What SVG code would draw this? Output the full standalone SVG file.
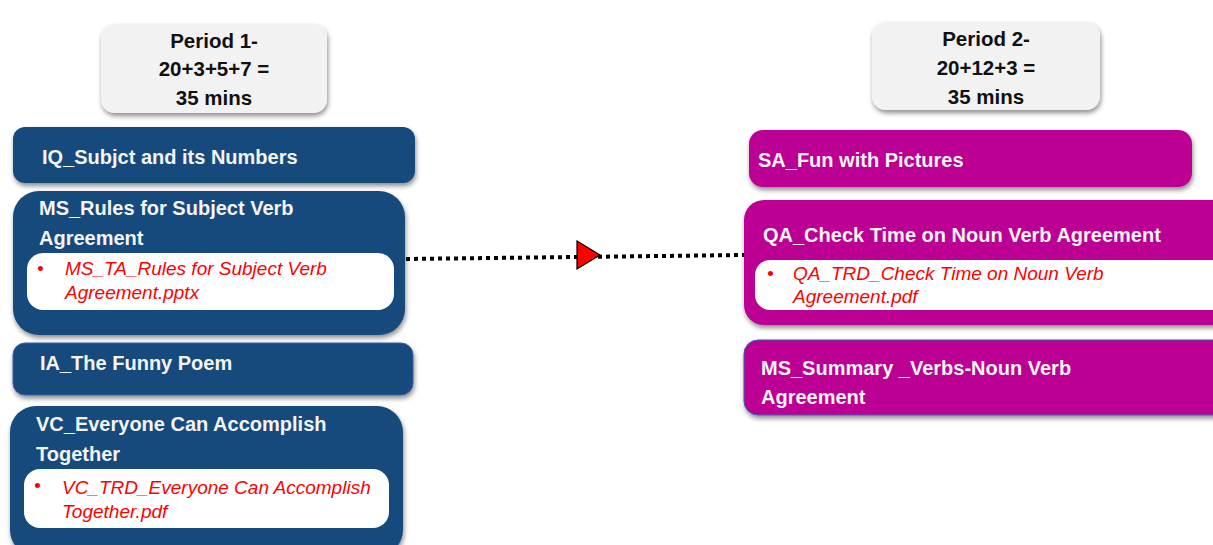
<svg xmlns="http://www.w3.org/2000/svg" width="1213" height="545" viewBox="0 0 1213 545">
<defs>
<filter id="sh" x="-10%" y="-20%" width="120%" height="150%">
<feGaussianBlur in="SourceAlpha" stdDeviation="2.5"/>
<feOffset dx="1" dy="3" result="b"/>
<feComponentTransfer><feFuncA type="linear" slope="0.45"/></feComponentTransfer>
<feMerge><feMergeNode/><feMergeNode in="SourceGraphic"/></feMerge>
</filter>
</defs>
<style>
.hdr{fill:#f2f2f2;filter:url(#sh)}
.ht{font-family:"Liberation Sans",Arial,sans-serif;font-weight:bold;font-size:20.5px;fill:#111;text-anchor:middle}
.nv{fill:#174a7c;filter:url(#sh)}
.mg{fill:#bb0093;filter:url(#sh)}
.in{fill:#ffffff}
.t{font-family:"Liberation Sans",Arial,sans-serif;font-weight:bold;font-size:20px;fill:#f4f4f4}
.r{font-family:"Liberation Sans",Arial,sans-serif;font-style:italic;font-size:19px;fill:#ff0000}
.dot{stroke:#000;stroke-width:4;stroke-dasharray:4 4;fill:none}
</style>
<rect width="1213" height="545" fill="#ffffff"/>

<g id="period1">
<rect class="hdr" x="101" y="24" width="226" height="89" rx="14"/>
<text class="ht" x="214" y="48">Period 1-</text>
<text class="ht" x="214" y="76">20+3+5+7 =</text>
<text class="ht" x="214" y="105">35 mins</text>
</g>

<g id="iq">
<rect class="nv" x="13" y="127" width="402" height="56" rx="12"/>
<text class="t" x="42" y="164">IQ_Subjct and its Numbers</text>
</g>

<g id="ms">
<rect class="nv" x="13" y="191" width="392" height="144" rx="26"/>
<text class="t" x="39" y="215">MS_Rules for Subject Verb</text>
<text class="t" x="39" y="245">Agreement</text>
<rect class="in" x="27" y="253" width="367" height="57" rx="16"/>
<text class="r" x="37" y="275" font-style="normal">•</text>
<text class="r" x="65" y="275">MS_TA_Rules for Subject Verb</text>
<text class="r" x="65" y="299">Agreement.pptx</text>
</g>

<g id="ia">
<rect class="nv" x="13" y="343" width="400" height="52" rx="12" stroke="#3a5fb0" stroke-width="1"/>
<text class="t" x="40" y="370">IA_The Funny Poem</text>
</g>

<g id="vc">
<rect class="nv" x="10" y="406" width="393" height="150" rx="26"/>
<text class="t" x="36" y="431">VC_Everyone Can Accomplish</text>
<text class="t" x="36" y="461">Together</text>
<rect class="in" x="24" y="469" width="365" height="59" rx="16"/>
<text class="r" x="34" y="492" font-style="normal">•</text>
<text class="r" x="62" y="494">VC_TRD_Everyone Can Accomplish</text>
<text class="r" x="62" y="518">Together.pdf</text>
</g>

<g id="period2">
<rect class="hdr" x="872" y="22" width="228" height="88" rx="14"/>
<text class="ht" x="986" y="46">Period 2-</text>
<text class="ht" x="986" y="75">20+12+3 =</text>
<text class="ht" x="986" y="104">35 mins</text>
</g>

<g id="sa">
<rect class="mg" x="749" y="130" width="443" height="57" rx="14"/>
<text class="t" x="758" y="167">SA_Fun with Pictures</text>
</g>

<g id="qa">
<rect class="mg" x="744" y="200" width="490" height="125" rx="20"/>
<text class="t" x="763" y="242">QA_Check Time on Noun Verb Agreement</text>
<rect class="in" x="755" y="260" width="480" height="50" rx="15"/>
<text class="r" x="767" y="280" font-style="normal">•</text>
<text class="r" x="793" y="280">QA_TRD_Check Time on Noun Verb</text>
<text class="r" x="793" y="303">Agreement.pdf</text>
</g>

<g id="summary">
<rect class="mg" x="744" y="340" width="490" height="75" rx="14" stroke="#3a5fb0" stroke-width="1"/>
<text class="t" x="761" y="375">MS_Summary _Verbs-Noun Verb</text>
<text class="t" x="761" y="404">Agreement</text>
</g>

<g id="connectors">
<line class="dot" x1="406" y1="259" x2="744" y2="255"/>
<path d="M577,241 L600,255 L577,269 Z" fill="#ff0000" stroke="#000" stroke-width="1.2"/>
</g>
</svg>
